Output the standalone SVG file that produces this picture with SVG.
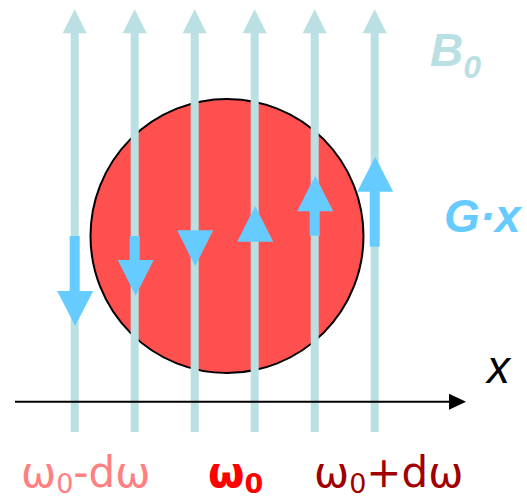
<svg xmlns="http://www.w3.org/2000/svg" width="527" height="499" viewBox="0 0 527 499">
<style>
.fl{fill:#BBE0E3}
.fs{stroke:#BBE0E3;stroke-width:8}
.ga{fill:#66CCFF}
.lab{font-family:"Liberation Sans",Arial,sans-serif;font-weight:bold;font-style:italic;font-size:46px}
.om{font-family:"DejaVu Sans",sans-serif;font-size:42px}
</style>
<rect width="527" height="499" fill="#ffffff"/>
<g id="sample">
<ellipse cx="227" cy="236" rx="136.5" ry="137" fill="#FF5050" stroke="#000" stroke-width="2"/>
</g>
<g id="connectors">
<g id="b0-field">
<line class="fs" x1="74.7" y1="32" x2="74.7" y2="432"/>
<line class="fs" x1="134.7" y1="32" x2="134.7" y2="432"/>
<line class="fs" x1="194.7" y1="32" x2="194.7" y2="432"/>
<line class="fs" x1="254.7" y1="32" x2="254.7" y2="432"/>
<line class="fs" x1="314.7" y1="32" x2="314.7" y2="432"/>
<line class="fs" x1="374.7" y1="32" x2="374.7" y2="432"/>
<polygon class="fl" points="62.7,33.3 86.7,33.3 74.7,9.3"/>
<polygon class="fl" points="122.7,33.3 146.7,33.3 134.7,9.3"/>
<polygon class="fl" points="182.7,33.3 206.7,33.3 194.7,9.3"/>
<polygon class="fl" points="242.7,33.3 266.7,33.3 254.7,9.3"/>
<polygon class="fl" points="302.7,33.3 326.7,33.3 314.7,9.3"/>
<polygon class="fl" points="362.7,33.3 386.7,33.3 374.7,9.3"/>
</g>
<g id="gradient-arrows">
<rect class="ga" x="69.7" y="236" width="10" height="56"/>
<polygon class="ga" points="57.2,291 93.2,291 75.2,326"/>
<rect class="ga" x="129.7" y="236" width="10" height="25"/>
<polygon class="ga" points="117.7,260 153.7,260 135.7,295.7"/>
<polygon class="ga" points="177.2,230.3 213.2,230.3 195.2,266.3"/>
<polygon class="ga" points="237.2,241.7 273.2,241.7 255.2,206"/>
<rect class="ga" x="309.7" y="210.5" width="10" height="25.2"/>
<polygon class="ga" points="297.2,211.3 333.2,211.3 315.2,175.7"/>
<rect class="ga" x="369.7" y="191" width="10" height="55.7"/>
<polygon class="ga" points="357.2,191.7 393.2,191.7 375.2,156.7"/>
</g>
<g id="x-axis">
<line x1="15" y1="401.7" x2="452" y2="401.7" stroke="#000" stroke-width="2"/>
<polygon points="449,393.7 449,409.7 466,401.7" fill="#000"/>
</g>
</g>
<g id="label-b0">
<text class="lab" x="430" y="65.5" fill="#BBE0E3">B<tspan font-size="32" dy="12">0</tspan></text>
</g>
<g id="label-gx">
<text class="lab" x="444" y="232" fill="#66CCFF">G·x</text>
</g>
<g id="label-x">
<text x="487" y="383" font-family="'Liberation Sans',Arial,sans-serif" font-style="italic" font-size="46" fill="#000">x</text>
</g>
<g id="label-left">
<text class="om" x="21" y="486.5" fill="#FF8080">ω<tspan font-size="27" dy="6">0</tspan><tspan dy="-6">-dω</tspan></text>
</g>
<g id="label-center">
<text class="om" x="208" y="486.5" fill="#FF0000" font-weight="bold">ω<tspan font-size="27" dy="6">0</tspan></text>
</g>
<g id="label-right">
<text class="om" x="314" y="486.5" fill="#A00000">ω<tspan font-size="27" dy="6">0</tspan><tspan dy="-6">+dω</tspan></text>
</g>
</svg>
